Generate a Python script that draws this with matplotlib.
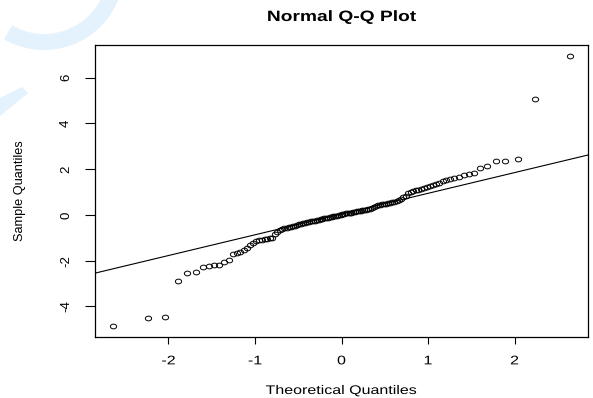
import numpy as np
import matplotlib.pyplot as plt
from matplotlib.patches import Wedge, Polygon
from matplotlib.patheffects import AbstractPathEffect
from matplotlib.transforms import Affine2D
from matplotlib.path import Path
from statistics import NormalDist

plt.rcParams['font.family'] = ['Liberation Sans', 'DejaVu Sans']

# sorted sample (120 values)
sample = [
    -4.88, -4.53, -4.47, -2.91, -2.54, -2.51, -2.28, -2.25, -2.21, -2.18,
    -2.05, -1.97, -1.72, -1.66, -1.62, -1.52, -1.43, -1.33, -1.22, -1.16,
    -1.12, -1.09, -1.07, -1.05, -1.03, -1.01, -0.83, -0.76, -0.66, -0.60,
    -0.57, -0.56, -0.54, -0.52, -0.50, -0.47, -0.44, -0.42, -0.40, -0.37,
    -0.34, -0.32, -0.30, -0.28, -0.26, -0.25, -0.23, -0.21, -0.19, -0.17,
    -0.16, -0.14, -0.13, -0.11, -0.09, -0.07, -0.05, -0.03, -0.01, 0.01,
    0.03, 0.05, 0.06, 0.08, 0.09, 0.10, 0.12, 0.13, 0.15, 0.16,
    0.18, 0.20, 0.21, 0.23, 0.25, 0.27, 0.30, 0.34, 0.39, 0.43,
    0.45, 0.46, 0.47, 0.49, 0.51, 0.53, 0.55, 0.57, 0.60, 0.63,
    0.69, 0.76, 0.84, 0.95, 1.02, 1.05, 1.07, 1.09, 1.12, 1.16,
    1.21, 1.26, 1.31, 1.36, 1.41, 1.46, 1.52, 1.57, 1.61, 1.67,
    1.74, 1.80, 1.84, 2.03, 2.14, 2.37, 2.37, 2.42, 5.05, 6.95,
]
x_ticks = [-2, -1, 0, 1, 2]
y_ticks = [-4, -2, 0, 2, 4, 6]

y = np.array(sample)
n = len(y)
nd = NormalDist()
# ppoints() for n > 10
theo = np.array([nd.inv_cdf((i - 0.5) / n) for i in range(1, n + 1)])

# qqline through the quartiles
q25, q75 = np.quantile(y, [0.25, 0.75])
z25, z75 = nd.inv_cdf(0.25), nd.inv_cdf(0.75)
slope = (q75 - q25) / (z75 - z25)
inter = q25 - slope * z25


class Widen(AbstractPathEffect):
    """stretch glyphs sideways about their own centre"""
    def __init__(self, sx):
        super().__init__()
        self.sx = sx

    def draw_path(self, renderer, gc, tpath, affine, rgbFace=None):
        ext = affine.transform_path(tpath).get_extents()
        cx = (ext.x0 + ext.x1) / 2
        tr = affine + Affine2D().translate(-cx, 0).scale(self.sx, 1).translate(cx, 0)
        renderer.draw_path(gc, tpath, tr, rgbFace)


wide = [Widen(1.28)]

# slightly flattened open circle
circ = Path.unit_circle()
oval = Path(circ.vertices * [1.0, 0.75], circ.codes)

fig = plt.figure(figsize=(5.93, 3.98), dpi=100)

# faint logo in the corner
bg = fig.add_axes([0, 0, 1, 1], zorder=-1)
bg.set_xlim(0, 593)
bg.set_ylim(398, 0)
bg.axis('off')
col = '#e3f2fd'
bg.add_patch(Wedge((44, -30), 80, 20, 120, width=16, color=col, lw=0))
bg.add_patch(Polygon([(22, 87), (28, 93), (0, 116), (0, 98)], closed=True, color=col, lw=0))

ax = fig.add_axes([0.1602, 0.1525, 0.8314, 0.7344])
ax.set_facecolor('none')
ax.plot(theo, y, linestyle='none', marker=oval, mfc='none', mec='black', ms=4.5, mew=0.7)

def padded(lo, hi):
    d = (hi - lo) * 0.04
    return lo - d, hi + d

xl = padded(theo.min(), theo.max())
yl = padded(y.min(), y.max())
ax.set_xlim(xl)
ax.set_ylim(yl)
xs = np.array(xl)
ax.plot(xs, inter + slope * xs, color='black', lw=0.8)

ax.set_xticks(x_ticks)
ax.set_yticks(y_ticks)
ax.set_xticklabels([str(t) for t in x_ticks], fontsize=9)
ax.set_yticklabels([str(t) for t in y_ticks], fontsize=9.5, rotation=90, va='center')
for lbl in ax.get_xticklabels():
    lbl.set_path_effects(wide)
ax.tick_params(axis='x', length=5, width=0.8, pad=8)
ax.tick_params(axis='y', length=7, width=0.8, pad=9.5)
for s in ax.spines.values():
    s.set_linewidth(0.9)

cx = (95 + 588) / 2 / 593
fig.text(cx, 1 - 17 / 398, 'Normal Q-Q Plot', ha='center', va='center',
         fontsize=10.8, fontweight='bold', path_effects=wide)
fig.text(cx, 7 / 398, 'Theoretical Quantiles', ha='center', va='center',
         fontsize=9, path_effects=wide)
fig.text(20 / 593, 1 - 191 / 398, 'Sample Quantiles', ha='center', va='center',
         fontsize=9.2, rotation=90)

fig.savefig('out.png', dpi=100)
